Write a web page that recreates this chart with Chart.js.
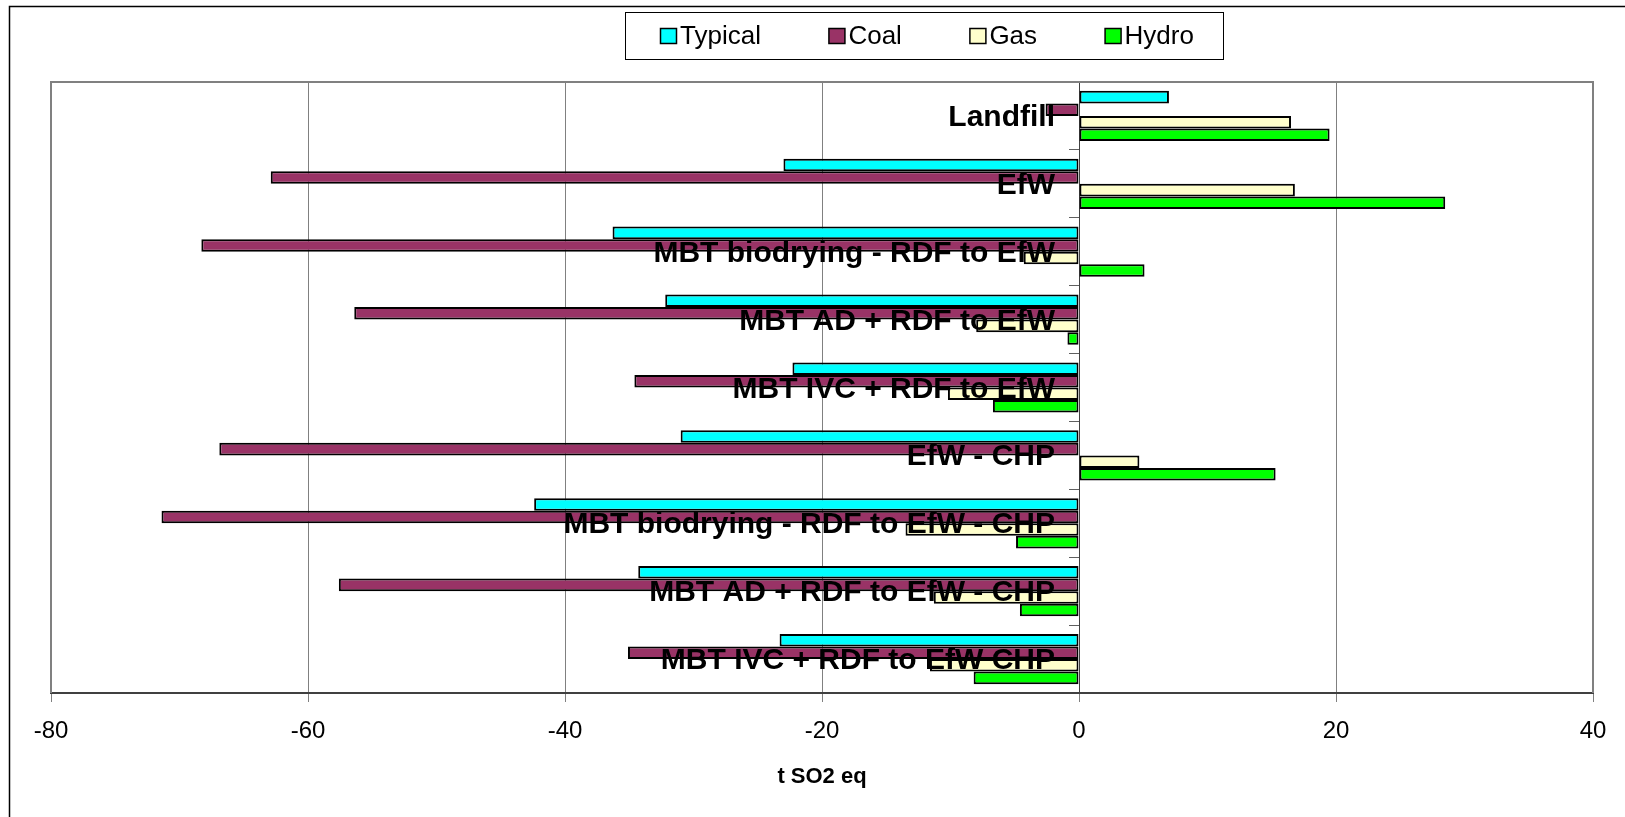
<!DOCTYPE html>
<html>
<head>
<meta charset="utf-8">
<script src="https://cdn.jsdelivr.net/npm/chart.js@4.4.1/dist/chart.umd.min.js"></script>
<style>
  html, body { margin: 0; padding: 0; background: #fff; }
  canvas { display: block; }
</style>
</head>
<body>
<canvas id="chart" width="1625" height="817"></canvas>
<script>
// Waste treatment options (top to bottom)
const categories = [
  'Landfill',
  'EfW',
  'MBT biodrying - RDF to EfW',
  'MBT AD + RDF to EfW',
  'MBT IVC + RDF to EfW',
  'EfW - CHP',
  'MBT biodrying - RDF to EfW - CHP',
  'MBT AD + RDF to EfW - CHP',
  'MBT IVC + RDF to EfW CHP'
];

// Acidification (t SO2 eq) by displaced electricity source
const typical = [7.0, -23.0, -36.3, -32.2, -22.3, -31.0, -42.4, -34.3, -23.3];
const coal    = [-2.6, -62.9, -68.3, -56.4, -34.6, -66.9, -71.4, -57.6, -35.1];
const gas     = [16.5, 16.8, -4.3, -8.0, -10.2, 4.7, -13.5, -11.3, -11.6];
const hydro   = [19.5, 28.5, 5.1, -0.9, -6.7, 15.3, -4.9, -4.6, -8.2];

const seriesNames = ['Typical', 'Coal', 'Gas', 'Hydro'];
const seriesValues = [typical, coal, gas, hydro];
const seriesColors = ['#00FFFF', '#993366', '#FFFFCC', '#00FF00'];

const xTicks = [-80, -60, -40, -20, 0, 20, 40];
const axisTitle = 't SO2 eq';

const FONT = '"Liberation Sans", Arial, Helvetica, sans-serif';

// White page, outer frame and the grey plot-area border
const framePlugin = {
  id: 'frame',
  beforeDraw(chart) {
    const ctx = chart.ctx;
    ctx.save();
    ctx.fillStyle = '#ffffff';
    ctx.fillRect(0, 0, chart.width, chart.height);
    ctx.strokeStyle = '#000000';
    ctx.lineWidth = 1.5;
    ctx.beginPath();
    ctx.moveTo(9.5, chart.height);
    ctx.lineTo(9.5, 6.5);
    ctx.lineTo(chart.width, 6.5);
    ctx.stroke();
    ctx.restore();
  },
  beforeDatasetsDraw(chart) {
    const { ctx, chartArea: a } = chart;
    ctx.save();
    ctx.strokeStyle = '#808080';
    ctx.lineWidth = 2;
    ctx.beginPath();
    ctx.moveTo(a.left, a.bottom);
    ctx.lineTo(a.left, a.top);
    ctx.lineTo(a.right, a.top);
    ctx.lineTo(a.right, a.bottom);
    ctx.stroke();
    ctx.restore();
  }
};

// Category names written next to the zero axis, over the bars
const categoryLabelPlugin = {
  id: 'categoryLabels',
  afterDatasetsDraw(chart) {
    const { ctx, scales } = chart;
    const x0 = scales.x.getPixelForValue(0);
    ctx.save();
    ctx.font = 'bold 30px ' + FONT;
    ctx.fillStyle = '#000000';
    ctx.textAlign = 'right';
    ctx.textBaseline = 'alphabetic';
    chart.data.labels.forEach((label, i) => {
      const y = scales.y.getPixelForValue(i);
      ctx.fillText(label, x0 - 24, y + 10);
    });
    ctx.restore();
  }
};

// Boxed legend across the top
const boxedLegendPlugin = {
  id: 'boxedLegend',
  afterDraw(chart) {
    const ctx = chart.ctx;
    const box = { left: 625.5, top: 12.5, width: 598, height: 47 };
    const swatchW = 16, swatchH = 15, gap = 4, spacing = 67.5;
    ctx.save();
    ctx.strokeStyle = '#000000';
    ctx.lineWidth = 1;
    ctx.strokeRect(box.left, box.top, box.width, box.height);
    ctx.font = '26px ' + FONT;
    ctx.textBaseline = 'alphabetic';
    ctx.textAlign = 'left';
    let x = 660;
    chart.data.datasets.forEach(ds => {
      ctx.fillStyle = ds.backgroundColor;
      ctx.fillRect(x + 0.5, 28.5, swatchW, swatchH);
      ctx.lineWidth = 1.5;
      ctx.strokeRect(x + 0.5, 28.5, swatchW, swatchH);
      ctx.fillStyle = '#000000';
      const tx = x + swatchW + gap;
      ctx.fillText(ds.label, tx, 43.5);
      x = tx + ctx.measureText(ds.label).width + spacing;
    });
    ctx.restore();
  }
};

new Chart(document.getElementById('chart'), {
  type: 'bar',
  data: {
    labels: categories,
    datasets: seriesNames.map((name, i) => ({
      label: name,
      data: seriesValues[i],
      backgroundColor: seriesColors[i],
      borderColor: '#000000',
      borderWidth: 2,
      borderSkipped: false,
      categoryPercentage: 0.74,
      barPercentage: 1.0
    }))
  },
  options: {
    indexAxis: 'y',
    responsive: false,
    animation: false,
    devicePixelRatio: 1,
    layout: { padding: { left: 51, right: 32, top: 82, bottom: 0 } },
    plugins: {
      legend: { display: false },
      tooltip: { enabled: false }
    },
    scales: {
      x: {
        type: 'linear',
        position: 'bottom',
        min: xTicks[0],
        max: xTicks[xTicks.length - 1],
        afterBuildTicks(scale) {
          scale.ticks = xTicks.map(v => ({ value: v }));
        },
        afterFit(scale) {
          scale.height = 124;
        },
        ticks: {
          color: '#000000',
          font: { family: FONT, size: 24 },
          padding: 15,
          maxRotation: 0
        },
        grid: {
          color: '#808080',
          lineWidth: 1,
          tickLength: 9,
          tickColor: '#808080'
        },
        border: { color: '#404040', width: 2 },
        title: {
          display: true,
          text: axisTitle,
          color: '#000000',
          font: { family: FONT, size: 22, weight: 'bold' },
          padding: { top: 0, bottom: 27 }
        }
      },
      y: {
        type: 'category',
        position: { x: 0 },
        offset: true,
        ticks: { display: false },
        grid: {
          offset: true,
          drawOnChartArea: false,
          tickLength: 10,
          color: '#606060'
        },
        border: { color: '#404040', width: 1 }
      }
    }
  },
  plugins: [framePlugin, categoryLabelPlugin, boxedLegendPlugin]
});
</script>
</body>
</html>
